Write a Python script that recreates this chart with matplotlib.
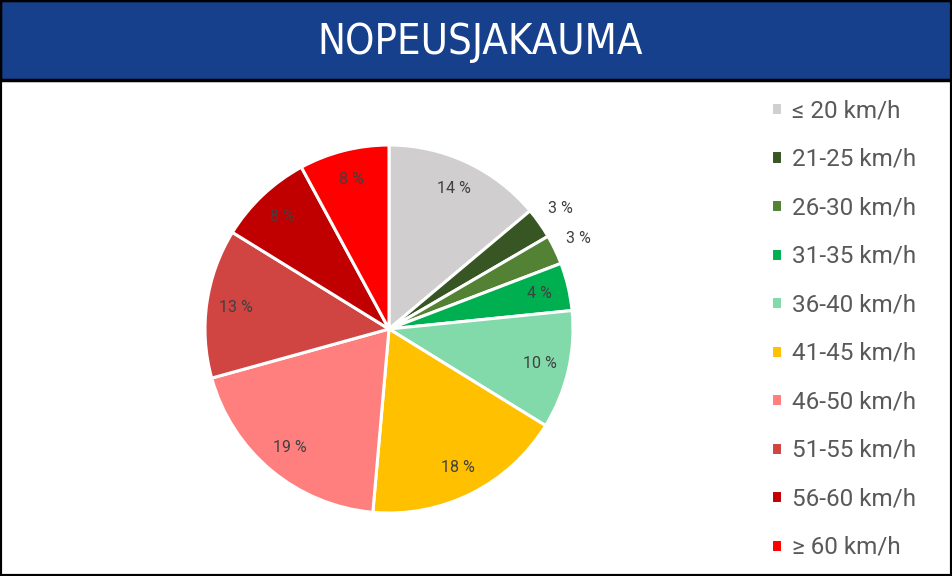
import matplotlib
matplotlib.use("Agg")
import matplotlib.pyplot as plt
from matplotlib.patches import Rectangle

# speed classes and their share of vehicles (%)
categories = ["≤ 20 km/h", "21-25 km/h", "26-30 km/h", "31-35 km/h", "36-40 km/h",
              "41-45 km/h", "46-50 km/h", "51-55 km/h", "56-60 km/h", "≥ 60 km/h"]
shares = [13.9, 2.7, 2.6, 4.2, 10.4, 17.6, 19.3, 13.1, 8.3, 7.9]
colors = ["#D0CECE", "#375623", "#548235", "#00B050", "#82D9A9",
          "#FFC000", "#FF7F7F", "#D04442", "#C00000", "#FF0000"]
title = "NOPEUSJAKAUMA"

W, H = 952, 576
fig = plt.figure(figsize=(W / 100, H / 100), dpi=100)

# title bar
fig.patches.append(Rectangle((0, 1 - 80 / H), 1, 80 / H, transform=fig.transFigure,
                             facecolor="#163F8C", edgecolor="black", linewidth=2.5))
fig.text(480 / W, 1 - 42 / H, title, color="white", fontsize=30,
         family=["Liberation Sans Narrow", "DejaVu Sans"], stretch="condensed",
         ha="center", va="center")
# frame
fig.patches.append(Rectangle((0, 0), 1, 1, transform=fig.transFigure,
                             facecolor="none", edgecolor="black", linewidth=3))

# pie
cx, cy, r = 389, 576 - 329, 184
box = 200
ax = fig.add_axes([(cx - box) / W, (cy - box) / H, 2 * box / W, 2 * box / H])
wedges, texts, autotexts = ax.pie(
    shares, colors=colors, startangle=90, counterclock=False,
    autopct=lambda p: "%d %%" % round(p), pctdistance=0.84,
    wedgeprops=dict(edgecolor="white", linewidth=2.2),
    textprops=dict(color="#404040", fontsize=11.5, family="Roboto"))
lim = box / r
ax.set_xlim(-lim, lim)
ax.set_ylim(-lim, lim)
ax.set_aspect("equal")
ax.axis("off")

# small slices get their labels outside
for i in (1, 2):
    x, y = autotexts[i].get_position()
    k = 1.14 / 0.84
    autotexts[i].set_position((x * k, y * k))

fs = 17.5
leg = fig.legend(wedges, categories, loc="upper left",
                 bbox_to_anchor=(759 / W, 1 - 87 / H), frameon=False,
                 handlelength=0.45, handleheight=0.45,
                 handletextpad=0.4, labelspacing=1.05, borderpad=0,
                 prop=dict(family="Roboto", size=fs))
for t in leg.get_texts():
    t.set_color("#595959")

fig.savefig("out.png", dpi=100)
